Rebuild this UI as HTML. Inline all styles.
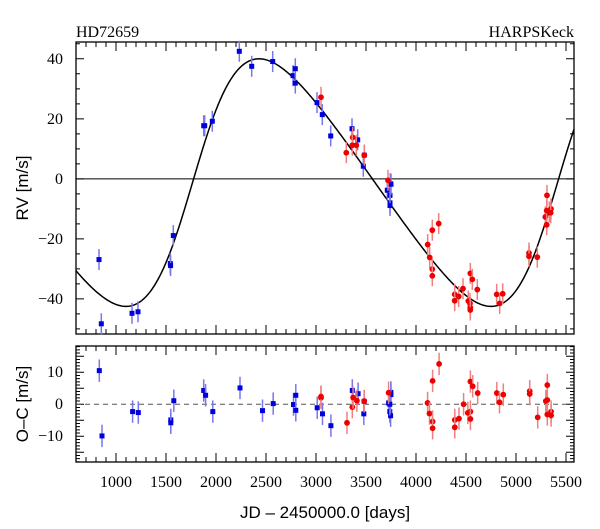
<!DOCTYPE html>
<html><head><meta charset="utf-8"><style>
html,body{margin:0;padding:0;background:#fff;}
svg{display:block;}
.tl{font-family:"Liberation Serif",serif;font-size:16px;fill:#000;}
.at{font-family:"Liberation Sans",sans-serif;font-size:17px;fill:#000;}
</style></head><body>
<svg id="chart" width="600" height="529" viewBox="0 0 600 529" xmlns="http://www.w3.org/2000/svg">
<text class="tl" x="76" y="37" style="font-size:16px">HD72659</text>
<text class="tl" x="574" y="37" text-anchor="end" style="font-size:16px">HARPSKeck</text>
<text class="at" transform="translate(28,188) rotate(-90)" text-anchor="middle">RV [m/s]</text>
<text class="at" transform="translate(28,404) rotate(-90)" text-anchor="middle">O–C [m/s]</text>
<text class="at" x="325" y="518" text-anchor="middle">JD – 2450000.0 [days]</text>
<g id="g"></g>
</svg>
<script>
// ---- data ----
const blueT = [830,853,1160,1220,1543,1546,1573,1877,1887,1963,2233,2357,2567,2770,2793,2793,3010,3063,3147,3360,3417,3473,3483,3713,3743,3740,3740,3740,3750];
const blueV = [-26.9,-48.3,-44.8,-44.3,-28.2,-28.9,-18.9,17.7,17.7,19.2,42.5,37.5,39.1,34.4,36.7,31.9,25.4,21.4,14.3,16.7,13.0,4.2,7.9,-3.8,-1.6,-5.5,-8.0,-8.9,-1.8];
const redT = [3050,3303,3367,3363,3403,3483,3720,4117,4137,4163,4163,4163,4227,4387,4387,4427,4470,4543,4563,4523,4540,4543,4543,4613,4807,4837,4867,5130,5130,5213,5310,5293,5307,5307,5333,5350,5347];
const redV = [27.2,8.7,13.8,11.2,11.2,7.9,-0.5,-21.9,-26.2,-17.1,-30.1,-32.3,-14.9,-38.5,-40.6,-39.2,-36.6,-31.5,-33.5,-40.7,-41.5,-42.9,-43.7,-36.9,-38.5,-41.5,-38.3,-24.7,-25.8,-26.1,-5.5,-12.7,-15.3,-10.6,-11.0,-10.0,-11.3];
const blueResT = [833,860,1166,1223,1548,1548,1578,1877,1896,1968,2240,2465,2572,2775,2798,2798,3012,3065,3149,3363,3421,3478,3482,3726,3738,3746,3749,3749,3738];
const blueResV = [10.5,-9.9,-2.3,-2.6,-4.9,-5.8,1.1,4.3,2.8,-2.3,5.1,-2.0,0.2,-0.1,2.8,-1.9,-1.1,-3.0,-6.7,4.3,3.3,-3.0,0.9,0.4,-2.3,-3.6,3.7,3.0,0.0];
const redResT = [3050,3050,3310,3363,3371,3409,3482,3726,4116,4135,4166,4166,4166,4231,4388,4388,4430,4476,4518,4544,4544,4544,4567,4617,4808,4835,4873,5137,5137,5217,5298,5313,5313,5313,5351,5351];
const redResV = [2.0,2.4,-5.8,-0.9,2.1,1.1,1.0,3.6,0.4,-2.9,7.3,-5.4,-7.5,12.6,-4.9,-7.2,-4.5,0.0,-2.7,7.1,-2.3,-4.6,5.6,3.5,3.5,0.6,3.0,4.1,3.2,-4.1,1.0,1.3,6.0,-3.2,-2.3,-3.5];
const errBar = 3.5;
// Keplerian model params
const orbitP = [3650];
const orbitE = [0.215];
const orbitK = [41.25];
const orbitW = [270];
const orbitTp = [1765];
const orbitOff = [-1.25];
const xTicks = [1000,1500,2000,2500,3000,3500,4000,4500,5000,5500];
const rvTicks = [40,20,0,-20,-40];
const ocTicks = [10,0,-10];

// ---- axes ----
const X0=76, X1=574, TMIN=600, TMAX=5580;
const sx = t => X0 + (t-TMIN)/(TMAX-TMIN)*(X1-X0);
const T0=42, T1=334, RVMAX=45.6, RVMIN=-51.7;
const syT = v => T0 + (RVMAX-v)/(RVMAX-RVMIN)*(T1-T0);
const B0=346, B1=462, OCMAX=18.2, OCMIN=-18.05;
const syB = v => B0 + (OCMAX-v)/(OCMAX-OCMIN)*(B1-B0);

const NS="http://www.w3.org/2000/svg";
const g=document.getElementById('g');
function mk(tag,attrs,parent){const e=document.createElementNS(NS,tag);for(const k in attrs)e.setAttribute(k,attrs[k]);(parent||g).appendChild(e);return e;}

function frame(y0,y1,name,ymin,ymax,minorStep,majorStep,labels,sy){
  const f=mk('rect',{x:X0,y:y0,width:X1-X0,height:y1-y0,fill:'none',stroke:'#000','stroke-width':1.3});
  
  
  let d='';
  for(let t=TMIN;t<=TMAX;t+=100){ const x=sx(t); const L=(t%500===0)?9:5;
    d+=`M${x},${y1}v${-L}M${x},${y0}v${L}`;}
  for(let v=Math.ceil(ymin/minorStep)*minorStep; v<=ymax; v+=minorStep){ const y=sy(v); const L=(Math.abs(v%majorStep)<1e-9)?8:4;
    d+=`M${X0},${y}h${L}M${X1},${y}h${-L}`;}
  const tk=mk('path',{d:d,stroke:'#000','stroke-width':1,fill:'none'});
  
  
  labels.forEach(v=>{const t=mk('text',{class:'tl',x:63,y:sy(v)+5,'text-anchor':'end'});t.textContent=(v<0?'−'+(-v):v);
    
    });
}
frame(T0,T1,'rv-panel',RVMIN,RVMAX,5,20,rvTicks,syT);
frame(B0,B1,'oc-panel',OCMIN,OCMAX,1,5,ocTicks,syB);
xTicks.forEach(t=>{const e=mk('text',{class:'tl',x:sx(t),y:487,'text-anchor':'middle'});e.textContent=t;
  
  });

const z1=mk('line',{x1:X0,x2:X1,y1:syT(0),y2:syT(0),stroke:'#000','stroke-width':1});


const z2=mk('line',{x1:X0,x2:X1,y1:syB(0),y2:syB(0),stroke:'#555','stroke-width':1,'stroke-dasharray':'5,4'});



function rv(t){const P=orbitP[0],e=orbitE[0],K=orbitK[0],w=orbitW[0]*Math.PI/180;
  let M=2*Math.PI*(t-orbitTp[0])/P; M=((M%(2*Math.PI))+2*Math.PI)%(2*Math.PI);
  let E=M; for(let i=0;i<50;i++)E=E-(E-e*Math.sin(E)-M)/(1-e*Math.cos(E));
  const nu=2*Math.atan2(Math.sqrt(1+e)*Math.sin(E/2),Math.sqrt(1-e)*Math.cos(E/2));
  return K*(Math.cos(nu+w)+e*Math.cos(w))+orbitOff[0];}
let cd='';
for(let t=TMIN;t<=TMAX;t+=10){cd+=(t===TMIN?'M':'L')+sx(t).toFixed(2)+','+syT(rv(t)).toFixed(2);}
const cp=mk('path',{d:cd,fill:'none',stroke:'#000','stroke-width':1.5});



function pts(T,V,sy,color,ecolor,square,name){
  T.forEach((t,i)=>{const x=sx(t),y=sy(V[i]);
    const eb=mk('line',{x1:x,x2:x,y1:sy(V[i]+errBar),y2:sy(V[i]-errBar),stroke:ecolor,'stroke-width':1.5});
    
    
    let m;
    if(square) m=mk('rect',{x:x-2.5,y:y-2.5,width:5,height:5,fill:color});
    else m=mk('circle',{cx:x,cy:y,r:2.9,fill:color});
    
    
  });
}
pts(blueT,blueV,syT,'#0000dd','#7777ee',true,'harps-rv');
pts(redT,redV,syT,'#ee0000','#f08080',false,'keck-rv');
pts(blueResT,blueResV,syB,'#0000dd','#7777ee',true,'harps-residual');
pts(redResT,redResV,syB,'#ee0000','#f08080',false,'keck-residual');
</script>
</body></html>
